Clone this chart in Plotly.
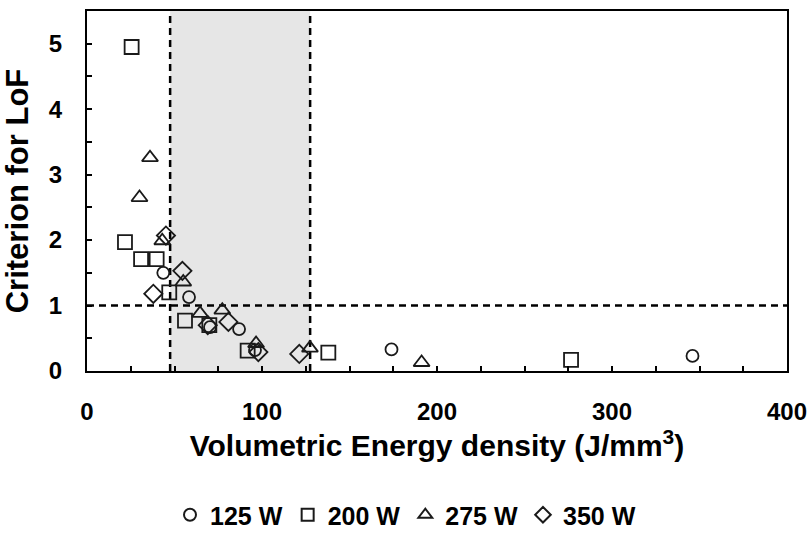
import plotly.graph_objects as go

# 125 W (circles)
x125 = [43.6, 58.3, 70.3, 86.9, 96.0, 174.0, 346.0]
y125 = [1.50, 1.13, 0.67, 0.64, 0.32, 0.33, 0.23]
# 200 W (squares)
x200 = [21.7, 25.5, 30.9, 39.8, 47.0, 56.0, 69.9, 91.8, 137.9, 276.6]
y200 = [1.97, 4.95, 1.71, 1.71, 1.20, 0.77, 0.70, 0.31, 0.28, 0.17]
# 275 W (triangles)
x275 = [30.0, 36.0, 43.0, 55.0, 64.6, 77.3, 96.6, 127.4, 191.2]
y275 = [2.65, 3.26, 1.99, 1.36, 0.88, 0.93, 0.42, 0.35, 0.13]
# 350 W (diamonds)
x350 = [37.9, 45.1, 54.5, 69.0, 80.8, 97.9, 121.3]
y350 = [1.18, 2.07, 1.53, 0.70, 0.75, 0.29, 0.26]

series_names = ["125 W", "200 W", "275 W", "350 W"]
lower_limit, upper_limit = 47.5, 127.5
criterion = 1.0

FONT = "Liberation Sans, Arial, sans-serif"

fig = go.Figure()

fig.add_shape(type="rect", xref="x", yref="paper", x0=lower_limit, x1=upper_limit,
              y0=0, y1=1, fillcolor="#e6e6e6", line_width=0, layer="below")
for xv in (lower_limit, upper_limit):
    fig.add_shape(type="line", xref="x", yref="paper", x0=xv, x1=xv, y0=0, y1=1,
                  line=dict(color="black", width=2.5, dash="7px,5px"), layer="below")
fig.add_shape(type="line", xref="paper", yref="y", x0=0, x1=1, y0=criterion, y1=criterion,
              line=dict(color="black", width=2.5, dash="7px,5px"), layer="below")

specs = [
    (x125, y125, "circle-open", 12),
    (x200, y200, "square-open", 14),
    (x275, y275, "triangle-up-open", 14),
    (x350, y350, "diamond-open", 14),
]
for (xs, ys, sym, sz), name in zip(specs, series_names):
    fig.add_trace(go.Scatter(
        x=xs, y=ys, mode="markers", name=name,
        marker=dict(symbol=sym, size=sz, color="#1a1a1a", line=dict(width=1.8, color="#1a1a1a")),
    ))

fig.update_layout(
    width=809, height=533,
    margin=dict(l=87, r=22, t=11, b=162, autoexpand=False),
    plot_bgcolor="white", paper_bgcolor="white",
    font=dict(family=FONT, color="black", size=24, weight="bold"),
    showlegend=True,
    legend=dict(orientation="h", x=0.455, xanchor="center", y=-0.40, yanchor="middle",
                font=dict(family=FONT, size=25, weight="bold"),
                itemwidth=30, tracegroupgap=0, itemsizing="constant"),
)
fig.update_xaxes(
    range=[0, 400], tickvals=[0, 100, 200, 300, 400],
    minor=dict(dtick=25, ticks="inside", ticklen=5, tickcolor="black", tickwidth=1.5),
    ticks="inside", ticklen=5, tickwidth=1.5, tickcolor="black",
    showline=True, linecolor="black", linewidth=2, mirror=True,
    showgrid=False, zeroline=False, ticklabelstandoff=18,
    tickfont=dict(family=FONT, size=24, weight="bold"),
    title=dict(text="Volumetric Energy density (J/mm<sup>3</sup>)", standoff=10,
               font=dict(family=FONT, size=30, weight="bold")),
)
fig.update_yaxes(
    range=[0, 5.5], tickvals=[0, 1, 2, 3, 4, 5],
    minor=dict(dtick=0.5, ticks="inside", ticklen=5, tickcolor="black", tickwidth=1.5),
    ticks="inside", ticklen=5, tickwidth=1.5, tickcolor="black",
    showline=True, linecolor="black", linewidth=2, mirror=True,
    showgrid=False, zeroline=False, ticklabelstandoff=18,
    tickfont=dict(family=FONT, size=24, weight="bold"),
    title=dict(text="Criterion for LoF", standoff=14,
               font=dict(family=FONT, size=31, weight="bold")),
)

fig.write_html("out.html")
